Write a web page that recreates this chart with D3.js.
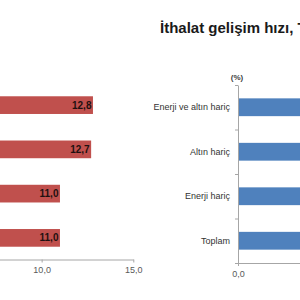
<!DOCTYPE html>
<html>
<head>
<meta charset="utf-8">
<script src="https://cdn.jsdelivr.net/npm/d3@7"></script>
<style>
  body { margin: 0; background: #fff; }
  svg { display: block; font-family: Arial, "Liberation Sans", sans-serif; }
</style>
</head>
<body>
<svg></svg>
<script>
// categories, top to bottom
var categories = ["Enerji ve altın hariç", "Altın hariç", "Enerji hariç", "Toplam"];
// left chart (exports), visible values
var exportValues = [12.8, 12.7, 11.0, 11.0];
// right chart (imports) - bars run off the picture, lengths estimated
var importValues = [6.0, 7.2, 5.5, 5.1];
var xTicks = [0, 5, 10, 15];
var title = "İthalat gelişim hızı, Temmuz 2012";

var svgWidth = 300;
var svgHeight = 300;

var svg = d3.select("svg")
    .attr("width", svgWidth)
    .attr("height", svgHeight);

// numbers with comma as decimal mark
var trFormat = d3.formatLocale({ decimal: ",", thousands: ".", grouping: [3], currency: ["", " TL"] }).format(".1f");

function styleAxis(g) {
    g.select(".domain").attr("stroke", "#a6a6a6");
    g.selectAll(".tick line").attr("stroke", "#a6a6a6");
    g.selectAll(".tick text")
        .attr("fill", "#595959")
        .style("font-size", "9px")
        .style("font-family", "Arial, 'Liberation Sans', sans-serif");
}

// ---------- left chart (cut off on the left side) ----------
var xL = d3.scaleLinear().domain([0, 15]).range([-141.7, 133.3]);
var yL = d3.scaleBand().domain(categories).range([83, 260])
    .paddingInner(0.6).paddingOuter(0.3);

var left = svg.append("g");

left.selectAll("rect")
    .data(exportValues)
    .enter()
    .append("rect")
    .attr("x", xL(0))
    .attr("y", function(d, i) { return yL(categories[i]); })
    .attr("width", function(d) { return xL(d) - xL(0); })
    .attr("height", yL.bandwidth())
    .attr("fill", "#c0504d");

left.selectAll("text.val")
    .data(exportValues)
    .enter()
    .append("text")
    .attr("class", "val")
    .attr("x", function(d) { return xL(d) - 1.5; })
    .attr("y", function(d, i) { return yL(categories[i]) + yL.bandwidth() / 2; })
    .attr("dy", "0.35em")
    .attr("text-anchor", "end")
    .attr("font-size", "10px")
    .attr("font-weight", "bold")
    .attr("fill", "#1e1010")
    .text(function(d) { return trFormat(d); });

left.append("g")
    .attr("transform", "translate(0," + 259.5 + ")")
    .call(d3.axisBottom(xL).tickValues(xTicks.filter(function(t) { return xL(t) > 0; }))
        .tickFormat(trFormat).tickSize(3).tickSizeOuter(0).tickPadding(4))
    .call(styleAxis);

// ---------- right chart (cut off on the right side) ----------
var xR = d3.scaleLinear().domain([0, 15]).range([238, 513]);
var yR = d3.scaleBand().domain(categories).range([85, 263])
    .paddingInner(0.6).paddingOuter(0.3);
// boundaries between categories, for the small tick marks
var yBound = d3.scaleLinear().domain([0, categories.length]).range([85, 263]);

var right = svg.append("g");

right.append("text")
    .attr("x", 160)
    .attr("y", 33)
    .attr("font-size", "15px")
    .attr("font-weight", "bold")
    .attr("fill", "#1a1a1a")
    .text(title);

right.append("text")
    .attr("x", 237)
    .attr("y", 80)
    .attr("text-anchor", "middle")
    .attr("font-size", "8px")
    .attr("font-weight", "bold")
    .attr("fill", "#404040")
    .text("(%)");

right.selectAll("rect")
    .data(importValues)
    .enter()
    .append("rect")
    .attr("x", xR(0))
    .attr("y", function(d, i) { return yR(categories[i]); })
    .attr("width", function(d) { return xR(d) - xR(0); })
    .attr("height", yR.bandwidth())
    .attr("fill", "#4f81bd");

// y axis: boundary ticks
right.append("g")
    .attr("transform", "translate(" + xR(0) + ",0)")
    .call(d3.axisLeft(yBound).tickValues(d3.range(categories.length + 1))
        .tickFormat("").tickSize(3).tickSizeOuter(0))
    .call(styleAxis);

// category labels
right.append("g")
    .attr("transform", "translate(" + xR(0) + ",0)")
    .call(d3.axisLeft(yR).tickSize(0).tickPadding(8))
    .call(function(g) {
        g.select(".domain").remove();
        g.selectAll(".tick text")
            .attr("fill", "#333333")
            .style("font-size", "9px")
            .style("font-family", "Arial, 'Liberation Sans', sans-serif");
    });

right.append("g")
    .attr("transform", "translate(0," + 263 + ")")
    .call(d3.axisBottom(xR).tickValues(xTicks.filter(function(t) { return xR(t) < svgWidth; }))
        .tickFormat(trFormat).tickSize(3).tickSizeOuter(0).tickPadding(5))
    .call(styleAxis);
</script>
</body>
</html>
